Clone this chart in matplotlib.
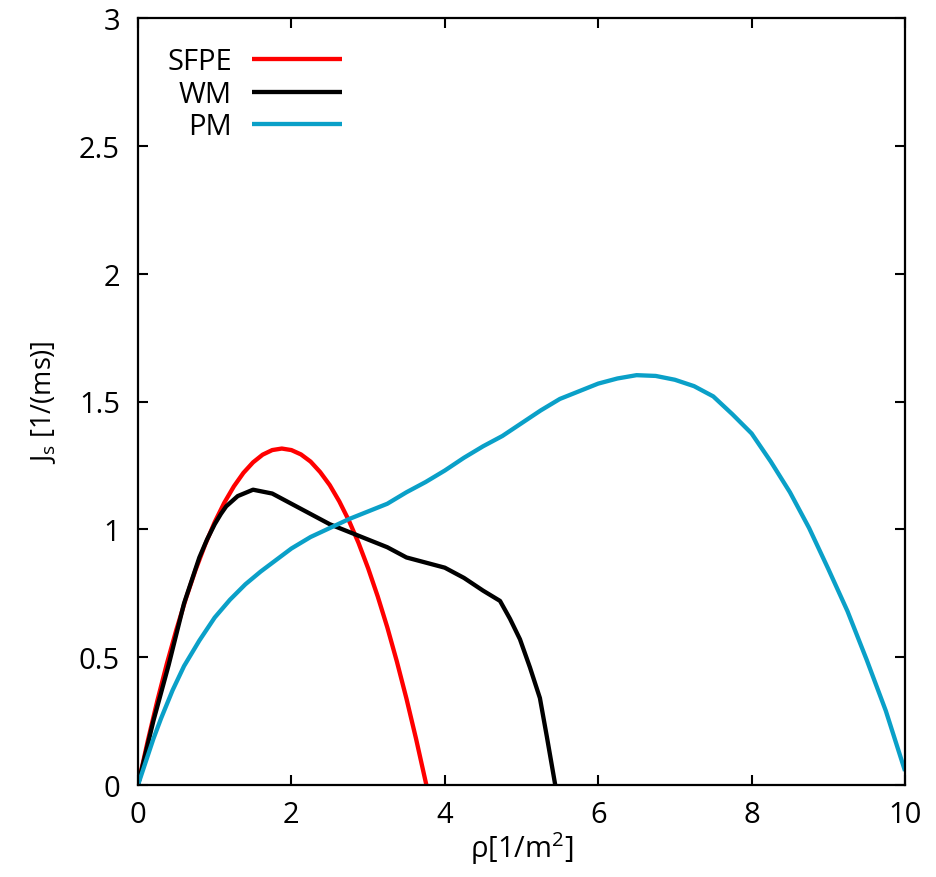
import matplotlib
matplotlib.use("Agg")
import matplotlib.pyplot as plt

plt.rcParams['font.family'] = ['Open Sans', 'DejaVu Sans']
plt.rcParams['mathtext.fontset'] = 'custom'
plt.rcParams['mathtext.rm'] = 'Open Sans'
plt.rcParams['mathtext.it'] = 'Open Sans'

# SFPE
sfpe_x = [0, 0.125, 0.25, 0.375, 0.5, 0.625, 0.75, 0.875, 1.0, 1.125, 1.25, 1.375, 1.5, 1.625,
          1.75, 1.875, 2.0, 2.125, 2.25, 2.375, 2.5, 2.625, 2.75, 2.875, 3.0, 3.125, 3.25,
          3.375, 3.5, 3.625, 3.75, 3.76]
sfpe_y = [0, 0.169, 0.327, 0.473, 0.607, 0.730, 0.841, 0.940, 1.028, 1.104, 1.168, 1.221, 1.262,
          1.292, 1.310, 1.316, 1.310, 1.293, 1.265, 1.224, 1.173, 1.109, 1.034, 0.947, 0.848,
          0.738, 0.617, 0.483, 0.338, 0.181, 0.013, 0.0]

# WM
wm_x = [0, 0.2, 0.4, 0.6, 0.8, 0.9, 1.0, 1.08, 1.15, 1.3, 1.5, 1.75, 2.0, 2.25, 2.5, 2.75, 3.0,
        3.25, 3.5, 3.75, 4.0, 4.25, 4.5, 4.72, 4.85, 4.98, 5.11, 5.24, 5.33, 5.44]
wm_y = [0, 0.25, 0.47, 0.71, 0.89, 0.96, 1.02, 1.06, 1.09, 1.13, 1.155, 1.14, 1.10, 1.06, 1.02,
        0.99, 0.96, 0.93, 0.89, 0.87, 0.85, 0.81, 0.76, 0.72, 0.65, 0.57, 0.46, 0.34, 0.19, 0.0]

# PM
pm_x = [0, 0.1, 0.2, 0.3, 0.45, 0.6, 0.8, 1.0, 1.2, 1.4, 1.6, 1.8, 2.0, 2.25, 2.5, 2.75, 3.0,
        3.25, 3.5, 3.75, 4.0, 4.25, 4.5, 4.75, 5.0, 5.25, 5.5, 5.75, 6.0, 6.25, 6.5, 6.75, 7.0,
        7.25, 7.5, 7.75, 8.0, 8.25, 8.5, 8.75, 9.0, 9.25, 9.5, 9.75, 10.0]
pm_y = [0, 0.09, 0.18, 0.26, 0.37, 0.465, 0.565, 0.655, 0.725, 0.785, 0.835, 0.88, 0.925, 0.97,
        1.005, 1.04, 1.07, 1.10, 1.145, 1.185, 1.23, 1.28, 1.325, 1.365, 1.415, 1.465, 1.51,
        1.54, 1.57, 1.59, 1.603, 1.60, 1.585, 1.56, 1.52, 1.45, 1.375, 1.265, 1.145, 1.005,
        0.845, 0.68, 0.49, 0.29, 0.055]

labels = ['SFPE', 'WM', 'PM']
colors = ['#ff0000', '#000000', '#0aa0c8']

x_ticks = [0, 2, 4, 6, 8, 10]
x_ticklabels = ['0', '2', '4', '6', '8', '10']
y_ticks = [0, 0.5, 1, 1.5, 2, 2.5, 3]
y_ticklabels = ['0', '0.5', '1', '1.5', '2', '2.5', '3']

fig = plt.figure(figsize=(9.36, 8.78), dpi=100)
ax = fig.add_axes([138/936, 92/878, 767/936, 767/878])

lw = 3.1
for xs, ys, c in zip([sfpe_x, wm_x, pm_x], [sfpe_y, wm_y, pm_y], colors):
    ax.plot(xs, ys, color=c, lw=lw, solid_joinstyle='round', solid_capstyle='butt')

ax.set_xlim(0, 10)
ax.set_ylim(0, 3)
ax.set_xticks(x_ticks)
ax.set_xticklabels(x_ticklabels)
ax.set_yticks(y_ticks)
ax.set_yticklabels(y_ticklabels)
fs = 21
ax.tick_params(direction='in', length=7, width=1.5, top=True, right=True,
               labelsize=fs, pad=11)
ax.tick_params(axis='y', pad=13)
for s in ax.spines.values():
    s.set_linewidth(1.6)

ax.set_xlabel(r'ρ[1/m$^2$]', fontsize=fs, labelpad=0)
ax.set_ylabel(r'J$_s$ [1/(ms)]', fontsize=19.5, labelpad=15)

# legend (gnuplot style: text right-aligned, sample to the right)
ys_leg = [0.9465, 0.9035, 0.8618]
for lab, c, yl in zip(labels, colors, ys_leg):
    ax.text(0.1226, yl - 0.003, lab, transform=ax.transAxes, ha='right', va='center', fontsize=fs)
    ax.plot([0.1486, 0.266], [yl, yl], transform=ax.transAxes, color=c, lw=lw,
            solid_capstyle='butt')

fig.savefig('out.png', dpi=100)
